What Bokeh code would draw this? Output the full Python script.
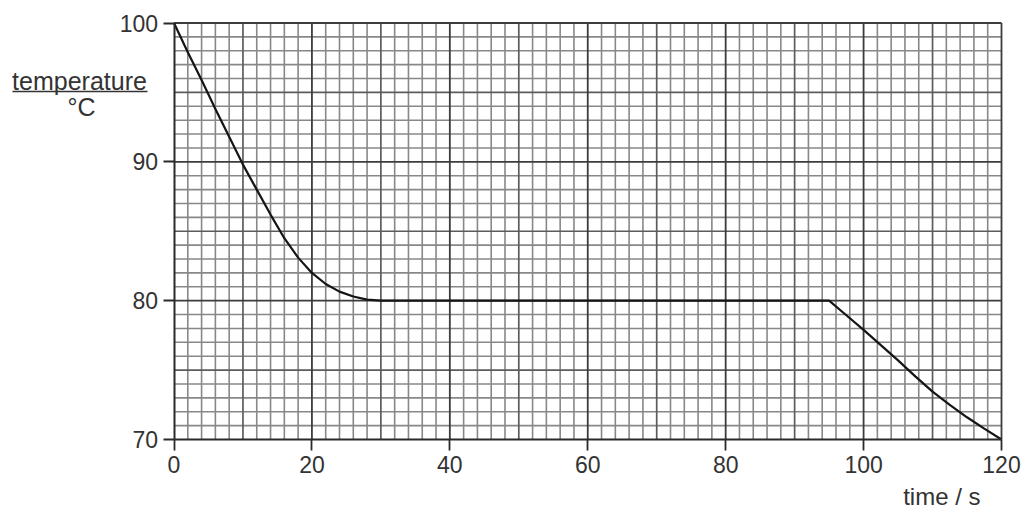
from bokeh.plotting import figure
from bokeh.models import Range1d, FixedTicker, Label
from bokeh.embed import file_html
from bokeh.resources import INLINE

# data
time_s = [0, 2, 4, 6, 8, 10, 12, 14, 16, 18, 20, 22, 24, 26, 28, 30,
          40, 50, 60, 70, 80, 90, 95, 97.5, 100, 102.5, 105, 107.5, 110, 112.5, 115, 117.5, 120]
temp_c = [100, 97.9, 95.9, 93.8, 91.8, 89.8, 88.0, 86.2, 84.5, 83.1, 82.0, 81.2, 80.65, 80.3, 80.08, 80.0,
          80.0, 80.0, 80.0, 80.0, 80.0, 80.0, 80.0, 78.95, 77.9, 76.8, 75.7, 74.55, 73.45, 72.5, 71.6, 70.78, 70.0]
x_ticks = [0, 20, 40, 60, 80, 100, 120]
y_ticks = [70, 80, 90, 100]
x_min, x_max = 0, 120
y_min, y_max = 70, 100

FONT = "Liberation Sans"
TXT = "#333333"
W, H = 1025, 512

# reference pixel geometry of the graph area
FX0, FX1, FY0, FY1 = 173.5, 1001.0, 22.5, 439.0
sx = (FX1 - FX0) / (x_max - x_min)
sy = (FY1 - FY0) / (y_max - y_min)

def px_to_x(px):
    return x_min + (px - FX0) / sx

def px_to_y(py):
    return y_max - (py - FY0) / sy

p = figure(width=W, height=H, output_backend="svg", toolbar_location=None,
           x_range=Range1d(px_to_x(0), px_to_x(W)), y_range=Range1d(px_to_y(H), px_to_y(0)),
           min_border=0)
p.background_fill_color = "white"
p.border_fill_color = "white"
p.outline_line_color = None
p.xgrid.visible = False
p.ygrid.visible = False

# graph-paper grid: three levels of lines (every 2 s / 1 degC, every 10 s / 5 degC, every 20 s / 10 degC)
minor_x = [v for v in range(2, 120, 2) if v % 10]
minor_y = [v for v in range(71, 100) if v % 5]
mid_x = [10, 30, 50, 70, 90, 110]
mid_y = [75, 85, 95]
maj_x = [20, 40, 60, 80, 100, 120]
maj_y = [80, 90, 100]
for gx, gy, col, w in [(minor_x, minor_y, "#888888", 1.6),
                       (mid_x, mid_y, "#5c5c5c", 1.7),
                       (maj_x, maj_y, "#3c3c3c", 1.8)]:
    p.segment(x0=gx, y0=[y_min] * len(gx), x1=gx, y1=[y_max] * len(gx), line_color=col, line_width=w)
    p.segment(x0=[x_min] * len(gy), y0=gy, x1=[x_max] * len(gy), y1=gy, line_color=col, line_width=w)

p.line(time_s, temp_c, line_color="#151515", line_width=2.2, line_join="round")

p.xaxis[0].fixed_location = y_min
p.xaxis[0].bounds = (x_min, x_max)
p.yaxis[0].fixed_location = x_min
p.yaxis[0].bounds = (y_min, y_max)
for ax, ticks in [(p.xaxis[0], x_ticks), (p.yaxis[0], y_ticks)]:
    ax.ticker = FixedTicker(ticks=ticks, minor_ticks=[])
    ax.axis_line_color = "#2a2a2a"
    ax.axis_line_width = 2
    ax.major_tick_line_color = "#2a2a2a"
    ax.major_tick_line_width = 1.8
    ax.major_tick_in = 0
    ax.major_tick_out = 11
    ax.minor_tick_line_color = None
    ax.major_label_text_font = FONT
    ax.major_label_text_font_size = "23px"
    ax.major_label_text_color = TXT
p.xaxis[0].major_label_standoff = 5
p.yaxis[0].major_label_standoff = 5

p.add_layout(Label(x=px_to_x(79), y=px_to_y(80), text="temperature", text_align="center",
                   text_baseline="middle", text_font=FONT, text_font_size="25px", text_color=TXT))
p.add_layout(Label(x=px_to_x(81), y=px_to_y(106), text="°C", text_align="center",
                   text_baseline="middle", text_font=FONT, text_font_size="25px", text_color=TXT))
p.segment(x0=[px_to_x(12)], y0=[px_to_y(91)], x1=[px_to_x(147)], y1=[px_to_y(91)],
          line_color=TXT, line_width=1.5)
p.add_layout(Label(x=px_to_x(980), y=px_to_y(496), text="time / s", text_align="right",
                   text_baseline="middle", text_font=FONT, text_font_size="24px", text_color=TXT))

open("out.html", "w").write(file_html(p, INLINE))
